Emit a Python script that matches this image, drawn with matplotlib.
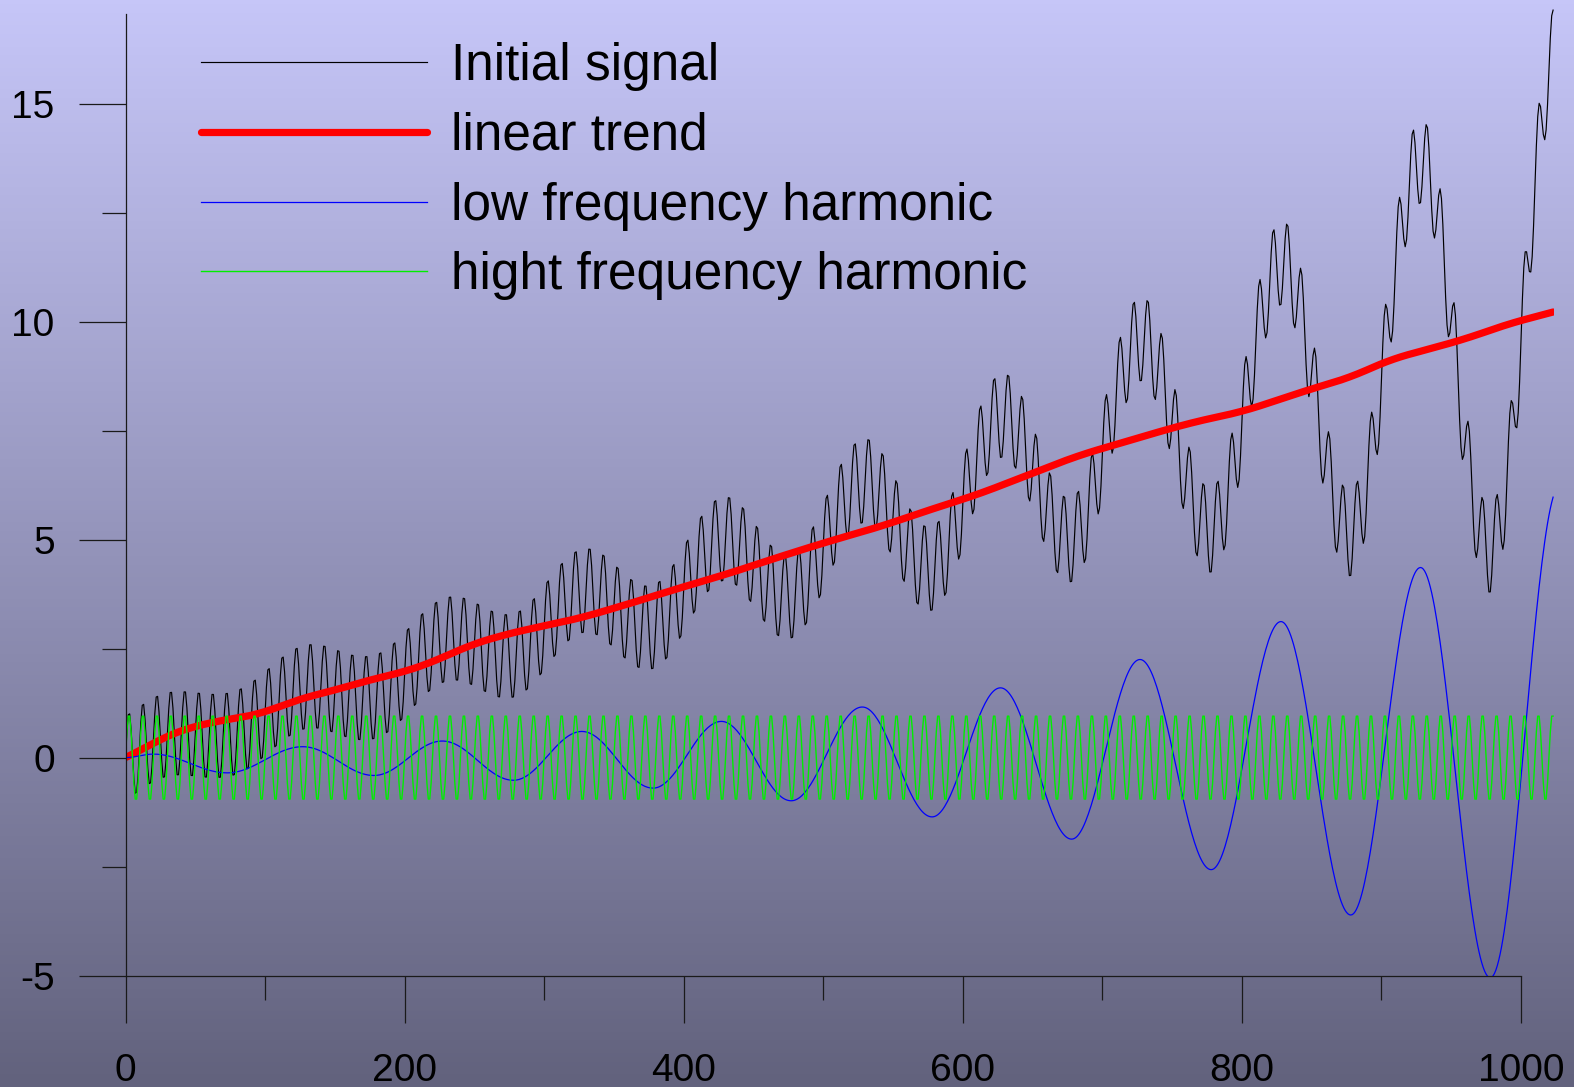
import numpy as np
import matplotlib
matplotlib.use("Agg")
import matplotlib.pyplot as plt

plt.rcParams['font.family'] = ['Liberation Sans', 'DejaVu Sans']
plt.rcParams['axes.unicode_minus'] = False

# samples 0..1023
n_samples = 1024

# linear trend (x, value)
trend_x = [0, 16, 28, 40, 52, 64, 76, 88, 100, 112, 124, 136, 149, 173, 197, 221,
           245, 268, 292, 326, 362, 397, 433, 469, 505, 541, 576, 612, 682, 738,
           766, 801, 850, 878, 906, 934, 962, 990, 1023]
trend_y = [0.0, 0.25, 0.48, 0.63, 0.73, 0.83, 0.89, 0.94, 1.04, 1.19, 1.33, 1.45, 1.53,
           1.77, 1.94, 2.20, 2.56, 2.79, 2.97, 3.20, 3.54, 3.89, 4.23, 4.61, 4.97,
           5.30, 5.68, 6.05, 6.92, 7.45, 7.70, 7.94, 8.46, 8.72, 9.13, 9.37, 9.62,
           9.94, 10.22]

# low frequency harmonic: start, peaks and troughs (x, value)
low_x = [0, 20, 73, 127, 178, 227, 278, 327, 378, 427, 477, 528, 578, 627, 678,
         727, 778, 828, 878, 928, 978, 1028]
low_y = [0.0, 0.08, -0.35, 0.25, -0.41, 0.38, -0.52, 0.60, -0.70, 0.83, -0.99,
         1.16, -1.36, 1.60, -1.87, 2.25, -2.57, 3.12, -3.61, 4.36, -5.05, 6.25]

# high frequency harmonic: amplitude and period in samples
high_amp = 1.0
high_period = 10

labels = ['Initial signal', 'linear trend', 'low frequency harmonic',
          'hight frequency harmonic']

x = np.arange(n_samples)

# trend through the read points, softened a little so the knots don't show
trend = np.interp(x, trend_x, trend_y)
k = 15
pad_l = 2 * trend[0] - trend[k:0:-1]
pad_r = 2 * trend[-1] - trend[-2:-k - 2:-1]
trend = np.convolve(np.concatenate([pad_l, trend, pad_r]), np.ones(2 * k + 1) / (2 * k + 1), mode='valid')

low = np.zeros(n_samples)
for i in range(len(low_x) - 1):
    x0, x1 = low_x[i], low_x[i + 1]
    y0, y1 = low_y[i], low_y[i + 1]
    m = (x >= x0) & (x < x1)
    t = (x[m] - x0) / (x1 - x0)
    low[m] = y0 + (y1 - y0) * (1 - np.cos(np.pi * t)) / 2

high = high_amp * np.sin(2 * np.pi * x / high_period)
signal = trend + low + high

W, H = 1574, 1087
fig = plt.figure(figsize=(W / 100, H / 100), dpi=100)

# gradient background
bg = fig.add_axes([0, 0, 1, 1], zorder=0)
top = np.array([198, 198, 248]) / 255
bot = np.array([98, 98, 125]) / 255
g = np.linspace(0, 1, 256)[:, None]
img = top[None, :] * (1 - g) + bot[None, :] * g
bg.imshow(img[:, None, :].repeat(2, axis=1), aspect='auto', extent=[0, 1, 0, 1])
bg.set_axis_off()

px_x = 1.3955
px_y = 43.6
ylo, yhi = -5, 17.35
ax = fig.add_axes([125.5 / W, 111.4 / H, 1024 * px_x / W, (yhi - ylo) * px_y / H], zorder=1)
ax.set_facecolor('none')

ax.plot(x, signal, color='black', lw=0.85, label=labels[0])
ax.plot(x, trend, color='#ff0000', lw=5.2, solid_capstyle='round', label=labels[1])
ax.plot(x, low, color='#0000ff', lw=0.9, label=labels[2])
ax.plot(x, high, color='#00ee00', lw=1.0, label=labels[3])

ax.set_xlim(0, 1024)
ax.set_ylim(ylo, yhi)
for s in ['top', 'right']:
    ax.spines[s].set_visible(False)
ax.spines['left'].set_bounds(-5, 17.05)
ax.spines['bottom'].set_bounds(0, 1000)
for s in ['left', 'bottom']:
    ax.spines[s].set_linewidth(0.9)
    ax.spines[s].set_color('#1a1a1a')

ax.set_xticks([0, 200, 400, 600, 800, 1000])
ax.set_xticks([100, 300, 500, 700, 900], minor=True)
ax.set_yticks([-5, 0, 5, 10, 15])
ax.set_yticks([-2.5, 2.5, 7.5, 12.5], minor=True)
ax.tick_params(which='major', length=34, width=0.9, color='#1a1a1a', labelsize=28)
ax.tick_params(which='minor', length=17, width=0.9, color='#1a1a1a')
ax.tick_params(axis='x', which='major', pad=22)
ax.tick_params(axis='y', which='major', pad=17)

ax.legend(loc='upper left', bbox_to_anchor=(201 / W, 1 - 42 / H),
          bbox_transform=fig.transFigure, frameon=False, borderpad=0,
          borderaxespad=0, handlelength=4.39, handletextpad=0.47,
          labelspacing=0.405, fontsize=37)

plt.savefig('out.png', dpi=100)
